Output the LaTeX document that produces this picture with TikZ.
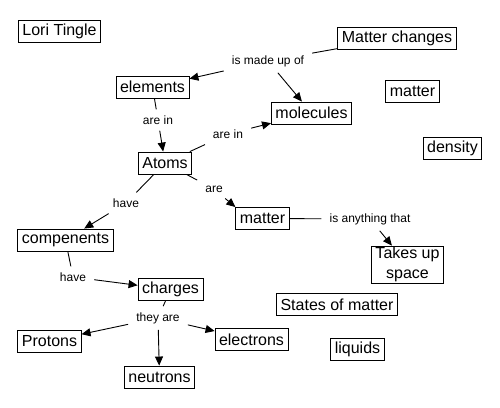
\documentclass[tikz,border=0pt]{standalone}
\usepackage{fontspec}
\setmainfont{Liberation Sans}
\usetikzlibrary{arrows.meta}
\definecolor{cLine}{RGB}{0,0,0}
\tikzset{
  concept/.style={rectangle, draw=cLine, line width=0.9pt, fill=white,
                  align=center, inner xsep=4pt, inner ysep=1pt,
                  minimum height=22pt, font=\fontsize{16}{20}\selectfont},
  phrase/.style={rectangle, inner xsep=8pt, inner ysep=6pt,
                 font=\fontsize{12}{14}\selectfont},
  conn/.style={draw=cLine, line width=0.9pt},
  flow/.style={conn, -{Triangle[length=9pt,width=8pt]}},
}
\newcommand{\Concept}[3]{% {name}{at}{text}
  \node[concept] (#1) at (#2) {#3};}
\newcommand{\Phrase}[3]{% {name}{at}{text}
  \node[phrase] (#1) at (#2) {#3};}

\begin{document}
\begin{tikzpicture}[x=1pt, y=-1pt]
  \useasboundingbox (0,0) rectangle (500,407);
  % concepts
  \Concept{lori}{59.5,31}{Lori Tingle}
  \Concept{changes}{397,38}{Matter changes}
  \Concept{elem}{152.5,87}{elements}
  \Concept{mattop}{412.5,91.5}{matter}
  \Concept{molec}{311.5,113}{molecules}
  \Concept{atoms}{165,163}{Atoms}
  \Concept{dens}{452.5,148.5}{density}
  \Concept{matmid}{262.5,218.5}{matter}
  \Concept{comp}{65.5,240}{compenents}
  \Concept{takes}{407.5,264.5}{Takes up\\ space}
  \Concept{charg}{170.5,289.5}{charges}
  \Concept{states}{337,304.5}{States of matter}
  \Concept{prot}{49.5,341}{Protons}
  \Concept{elec}{251.5,339.5}{electrons}
  \Concept{liq}{357.5,349.5}{liquids}
  \Concept{neut}{159.5,377}{neutrons}
  % linking phrases
  \Phrase{made}{268,61}{is made up of}
  \Phrase{arein}{158,120}{are in}
  \Phrase{areinb}{228,134}{are in}
  \Phrase{are}{214,189}{are}
  \Phrase{have}{126,203}{have}
  \Phrase{haveb}{73,277}{have}
  \Phrase{they}{158,318}{they are}
  \Phrase{any}{370,219}{is anything that}
  % links
  \draw[conn] (changes) -- (made);
  \draw[flow] (made) -- (elem);
  \draw[flow] (made) -- (molec);
  \draw[conn] (elem) -- (arein);
  \draw[flow] (arein) -- (atoms);
  \draw[conn] (atoms) -- (areinb);
  \draw[flow] (areinb) -- (molec);
  \draw[conn] (atoms) -- (are);
  \draw[flow] (are) -- (matmid.north west);
  \draw[conn] (atoms) -- (have);
  \draw[flow] (have) -- (comp);
  \draw[conn] (comp) -- (haveb);
  \draw[flow] (haveb) -- (charg);
  \draw[conn] (charg) -- (they);
  \draw[flow] (they) -- (prot);
  \draw[flow] (they) -- (neut);
  \draw[flow] (they) -- (elec);
  \draw[conn] (matmid) -- (any);
  \draw[flow] (any) -- (takes);
\end{tikzpicture}
\end{document}
